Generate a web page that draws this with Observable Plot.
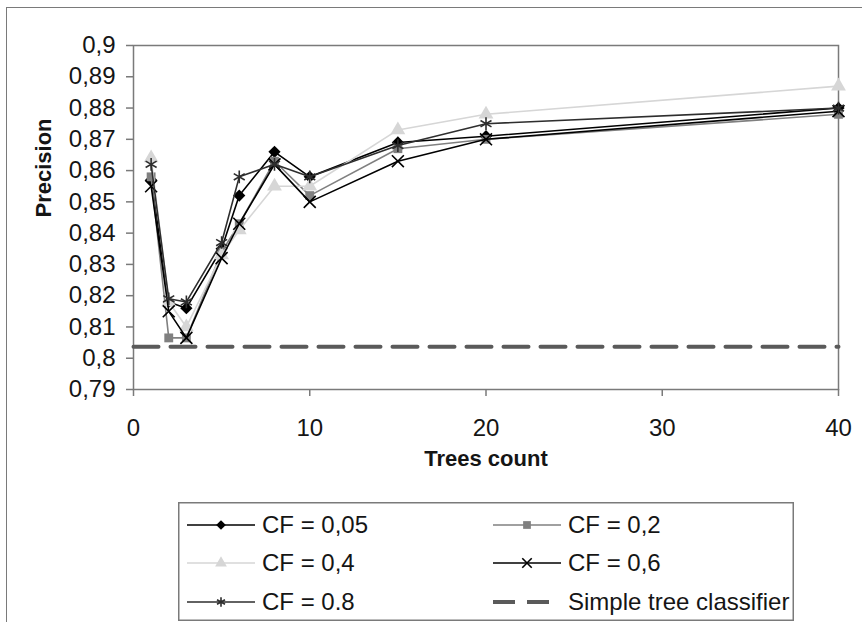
<!DOCTYPE html>
<html>
<head>
<meta charset="utf-8">
<script src="https://cdn.jsdelivr.net/npm/d3@7"></script>
<script src="https://cdn.jsdelivr.net/npm/@observablehq/plot@0.6"></script>
<style>
  html, body { margin: 0; padding: 0; background: #fff; width: 862px; height: 622px; overflow: hidden; }
  #frame { position: absolute; left: 6px; top: 7px; width: 900px; height: 700px; border: 1.5px solid #7a7a7a; box-sizing: border-box; }
  #chart { position: absolute; left: 0; top: 0; }
  #legend { position: absolute; left: 178px; top: 502px; }
</style>
</head>
<body>
<div id="frame"></div>
<div id="chart"></div>
<div id="legend"></div>
<script>
// ---- data ----
const trees = [1, 2, 3, 5, 6, 8, 10, 15, 20, 40];
const cf005 = [0.857, 0.818, 0.816, 0.835, 0.852, 0.866, 0.858, 0.869, 0.871, 0.880];
const cf02  = [0.858, 0.8065, 0.8065, 0.834, 0.843, 0.863, 0.852, 0.867, 0.870, 0.878];
const cf04  = [0.864, 0.818, 0.810, 0.833, 0.841, 0.855, 0.855, 0.873, 0.878, 0.887];
const cf06  = [0.855, 0.815, 0.8065, 0.832, 0.843, 0.862, 0.850, 0.863, 0.870, 0.879];
const cf08  = [0.862, 0.819, 0.818, 0.837, 0.858, 0.862, 0.858, 0.868, 0.875, 0.880];
const simpleTreeX = [0, 40];
const simpleTreeY = [0.8037, 0.8037];
const seriesNames = ["CF = 0,05", "CF = 0,2", "CF = 0,4", "CF = 0,6", "CF = 0.8"];
const simpleName = "Simple tree classifier";
const xTicks = [0, 10, 20, 30, 40];
const yTicks = [0.79, 0.8, 0.81, 0.82, 0.83, 0.84, 0.85, 0.86, 0.87, 0.88, 0.89, 0.9];
const xTitle = "Trees count";
const yTitle = "Precision";

// ---- styling per series ----
const styles = [
  {color: "#000000", symbol: "diamond2", filled: true,  r: 5.5, lsym: d3.symbolDiamond2},
  {color: "#808080", symbol: "square",   filled: true,  r: 5,   lsym: d3.symbolSquare},
  {color: "#d6d6d6", symbol: "triangle", filled: true,  r: 5.5, lsym: d3.symbolTriangle},
  {color: "#000000", symbol: "times",    filled: false, r: 5.5, lsym: d3.symbolTimes},
  {color: "#2e2e2e", symbol: "asterisk", filled: false, r: 6,   lsym: d3.symbolAsterisk}
];
const allVals = [cf005, cf02, cf04, cf06, cf08];

const series = seriesNames.map((name, i) => ({
  name, ...styles[i],
  rows: trees.map((t, j) => ({trees: t, p: allVals[i][j]}))
}));
const simpleRows = simpleTreeX.map((x, i) => ({trees: x, p: simpleTreeY[i]}));

const marks = [
  Plot.frame({stroke: "#7a7a7a", strokeWidth: 1.5}),
  Plot.axisX({ticks: xTicks, tickSize: 7, tickPadding: 22, fontSize: 24, label: null, stroke: "#7a7a7a", strokeWidth: 1.5}),
  Plot.axisY({ticks: yTicks, tickSize: 7, tickPadding: 11, fontSize: 24, label: null,
              tickFormat: d => d3.format(".2~f")(d).replace(".", ","), stroke: "#7a7a7a", strokeWidth: 1.5}),
  Plot.text([yTitle], {frameAnchor: "left", dx: -90, rotate: -90, fontWeight: "bold", fontSize: 22}),
  Plot.text([xTitle], {frameAnchor: "bottom", dy: 76, fontWeight: "bold", fontSize: 22})
];
for (const s of series) {
  marks.push(Plot.line(s.rows, {x: "trees", y: "p", stroke: s.color, strokeWidth: 1.6}));
  if (s.filled) {
    marks.push(Plot.dot(s.rows, {x: "trees", y: "p", symbol: s.symbol, r: s.r, fill: s.color, stroke: "none"}));
  } else {
    marks.push(Plot.dot(s.rows, {x: "trees", y: "p", symbol: s.symbol, r: s.r, fill: "none", stroke: s.color, strokeWidth: 1.6}));
  }
}
marks.push(Plot.line(simpleRows, {x: "trees", y: "p", stroke: "#5a5a5a", strokeWidth: 4, strokeDasharray: "25,12"}));

const chart = Plot.plot({
  width: 862,
  height: 500,
  marginLeft: 133,
  marginRight: 24,
  marginTop: 45,
  marginBottom: 111,
  x: {domain: [0, 40]},
  y: {domain: [0.79, 0.9]},
  style: {fontFamily: "'Liberation Sans', Arial, sans-serif", fontSize: "24px", color: "#151515", background: "transparent", overflow: "visible"},
  marks
});
document.getElementById("chart").appendChild(chart);

// ---- legend ----
const legendItems = series.map(s => ({label: s.name, color: s.color, lsym: s.lsym, filled: s.filled, dash: null, width: 1.6}));
legendItems.push({label: simpleName, color: "#5a5a5a", lsym: null, filled: false, dash: "25,12", width: 4});

const lw = 616, lh = 119;
const lsvg = d3.create("svg").attr("width", lw).attr("height", lh)
  .style("font-family", "'Liberation Sans', Arial, sans-serif").style("font-size", "24px");
lsvg.append("rect").attr("x", 0.75).attr("y", 0.75).attr("width", lw - 1.5).attr("height", lh - 1.5)
  .attr("fill", "#fff").attr("stroke", "#7a7a7a").attr("stroke-width", 1.5);
const colX = [9, 315];
const rowY = [23, 61, 100];
legendItems.forEach((it, i) => {
  const cx = colX[i % 2], cy = rowY[Math.floor(i / 2)];
  const g = lsvg.append("g").attr("transform", `translate(${cx},${cy})`);
  if (it.dash) {
    g.append("line").attr("x1", 0).attr("x2", 68).attr("y1", 0).attr("y2", 0)
      .attr("stroke", it.color).attr("stroke-width", it.width).attr("stroke-dasharray", "22,12");
  } else {
    g.append("line").attr("x1", 0).attr("x2", 68).attr("y1", 0).attr("y2", 0)
      .attr("stroke", it.color).attr("stroke-width", it.width);
    g.append("path").attr("transform", "translate(34,0)")
      .attr("d", d3.symbol(it.lsym, 60)())
      .attr("fill", it.filled ? it.color : "none")
      .attr("stroke", it.filled ? "none" : it.color)
      .attr("stroke-width", 1.6);
  }
  g.append("text").attr("x", 75).attr("y", 0).attr("dy", "0.35em").attr("fill", "#151515").text(it.label);
});
document.getElementById("legend").appendChild(lsvg.node());
</script>
</body>
</html>
